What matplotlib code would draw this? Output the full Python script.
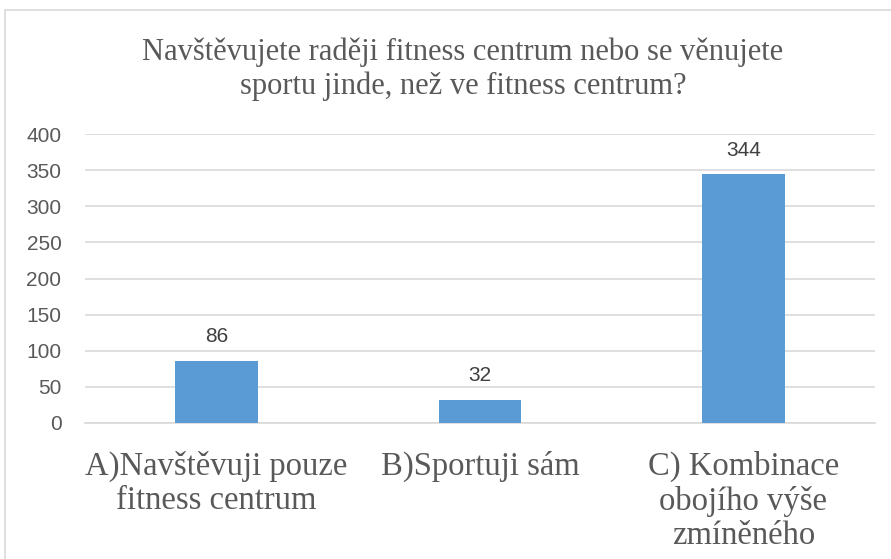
import matplotlib
matplotlib.use("Agg")
import matplotlib.pyplot as plt
from matplotlib.patches import Rectangle

categories = ["A)Navštěvuji pouze\nfitness centrum",
              "B)Sportuji sám",
              "C) Kombinace\nobojího výše\nzmíněného"]
values = [86, 32, 344]
yticks = [0, 50, 100, 150, 200, 250, 300, 350, 400]
title = "Navštěvujete raději fitness centrum nebo se věnujete\nsportu jinde, než ve fitness centrum?"

fig = plt.figure(figsize=(8.91, 5.59), dpi=100)
fig.patches.append(Rectangle((5 / 891, -0.1), 1.1, 1 - 10 / 559 + 0.1, transform=fig.transFigure,
                             fill=False, edgecolor="#d9d9d9", linewidth=1.2))
ax = fig.add_axes([85 / 891, 1 - 423 / 559, 790 / 891, 289 / 559])

x = range(len(values))
bars = ax.bar(x, values, width=0.315, color="#5b9bd5", zorder=3)
for b, v in zip(bars, values):
    ax.text(b.get_x() + b.get_width() / 2, v + 20, str(v), ha="center", va="bottom",
            fontsize=15, color="#404040", family="Liberation Sans")

ax.set_xlim(-0.5, 2.5)
ax.set_ylim(0, 400)
ax.set_yticks(yticks)
ax.yaxis.grid(True, color="#d9d9d9", linewidth=1.2, zorder=0)
for s in ax.spines.values():
    s.set_visible(False)
ax.spines["bottom"].set_visible(True)
ax.spines["bottom"].set_color("#d9d9d9")
ax.spines["bottom"].set_linewidth(1.2)
ax.tick_params(length=0)
for lab in ax.get_yticklabels():
    lab.set_family("Liberation Sans")
    lab.set_fontsize(15)
    lab.set_color("#595959")
ax.tick_params(axis="y", pad=17)
ax.set_xticks(list(x))
ax.set_xticklabels(categories, family="Liberation Serif", fontsize=23.5, color="#595959",
                   linespacing=1.16)
ax.tick_params(axis="x", pad=20)

fig.text(463 / 891, 1 - 69 / 559, title, ha="center", va="center", family="Liberation Serif",
         fontsize=22, color="#595959", linespacing=1.2)

fig.savefig("out.png", dpi=100)
